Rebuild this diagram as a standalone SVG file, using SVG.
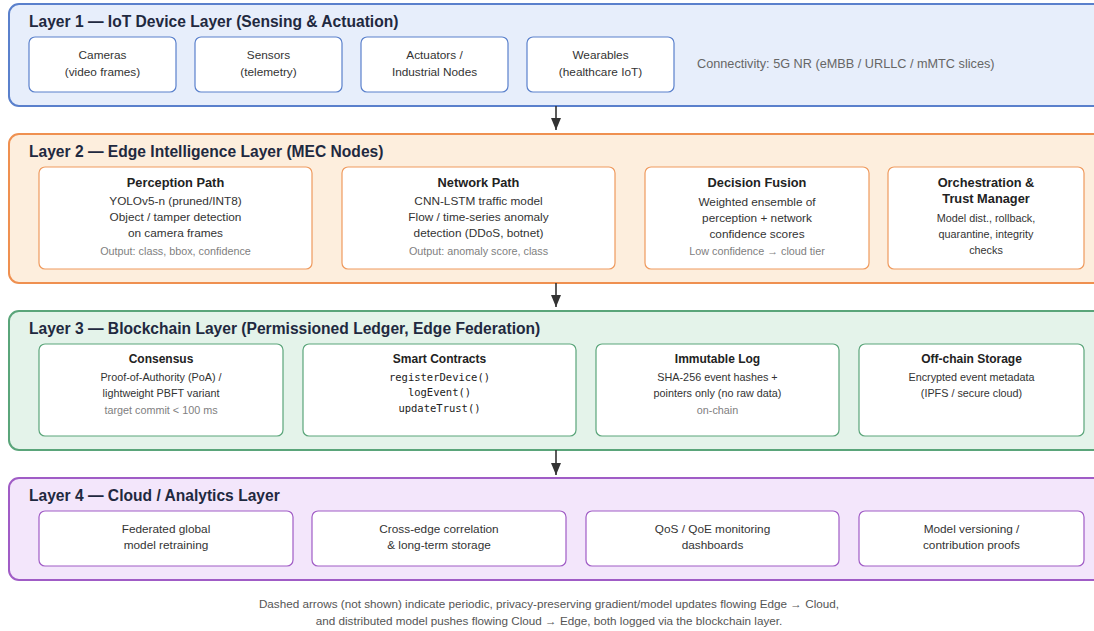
<svg xmlns="http://www.w3.org/2000/svg" width="1094" height="631" viewBox="0 0 1094 631">
<style>
text{font-family:"Liberation Sans",Arial,sans-serif}
.lt{font-size:15.6px;font-weight:bold;fill:#1f2940}
.h{font-size:12.8px;font-weight:bold;fill:#222;text-anchor:middle}
.h3{font-size:12px;font-weight:bold;fill:#222;text-anchor:middle}
.b{font-size:11.8px;fill:#333;text-anchor:middle}
.s{font-size:10.8px;fill:#333;text-anchor:middle}
.g{font-size:10.8px;fill:#808080;text-anchor:middle}
.m{font-family:"DejaVu Sans Mono","Liberation Mono",monospace;font-size:10.5px;fill:#222;text-anchor:middle}
.box{fill:#fff;stroke-width:1.2}
.l1{fill:#e7eefb;stroke:#5a80cc;stroke-width:2}
.l2{fill:#fdeedd;stroke:#ef9050;stroke-width:2}
.l3{fill:#e4f3ea;stroke:#5aa57a;stroke-width:2}
.l4{fill:#f3e6fb;stroke:#a05cc6;stroke-width:2}
.c1{stroke:#5a80cc}.c2{stroke:#ef9a5e}.c3{stroke:#5aa57a}.c4{stroke:#a05cc6}
.arr{stroke:#333;stroke-width:1.6;fill:none}
</style>
<defs>
<marker id="ah2" viewBox="0 0 12 10" refX="12" refY="5" markerWidth="12" markerHeight="10" markerUnits="userSpaceOnUse" orient="auto">
<path d="M0,0 L12,5 L0,10 z" fill="#333"/>
</marker>
</defs>
<rect width="1094" height="631" fill="#fff"/>

<g id="layer1">
<rect class="l1" x="9" y="4" width="1110" height="102" rx="10"/>
<text class="lt" x="29" y="27">Layer 1 — IoT Device Layer (Sensing &amp; Actuation)</text>
<g id="cameras"><rect class="box c1" x="29" y="37" width="147" height="55" rx="6"/><text class="b" x="102.5" y="59">Cameras</text><text class="b" x="102.5" y="76">(video frames)</text></g>
<g id="sensors"><rect class="box c1" x="195" y="37" width="147" height="55" rx="6"/><text class="b" x="268.5" y="59">Sensors</text><text class="b" x="268.5" y="76">(telemetry)</text></g>
<g id="actuators"><rect class="box c1" x="361" y="37" width="147" height="55" rx="6"/><text class="b" x="434.5" y="59">Actuators /</text><text class="b" x="434.5" y="76">Industrial Nodes</text></g>
<g id="wearables"><rect class="box c1" x="527" y="37" width="147" height="55" rx="6"/><text class="b" x="600.5" y="59">Wearables</text><text class="b" x="600.5" y="76">(healthcare IoT)</text></g>
<text x="697" y="68" font-size="12.7" fill="#666">Connectivity: 5G NR (eMBB / URLLC / mMTC slices)</text>
</g>

<g id="layer2">
<rect class="l2" x="9" y="134" width="1110" height="149" rx="10"/>
<text class="lt" x="29" y="157">Layer 2 — Edge Intelligence Layer (MEC Nodes)</text>
<g id="perception"><rect class="box c2" x="39" y="167" width="273" height="102" rx="6"/>
<text class="h" x="175.5" y="187">Perception Path</text>
<text class="b" x="175.5" y="205">YOLOv5-n (pruned/INT8)</text>
<text class="b" x="175.5" y="221">Object / tamper detection</text>
<text class="b" x="175.5" y="237">on camera frames</text>
<text class="g" x="175.5" y="255">Output: class, bbox, confidence</text></g>
<g id="network"><rect class="box c2" x="342" y="167" width="273" height="102" rx="6"/>
<text class="h" x="478.5" y="187">Network Path</text>
<text class="b" x="478.5" y="205">CNN-LSTM traffic model</text>
<text class="b" x="478.5" y="221">Flow / time-series anomaly</text>
<text class="b" x="478.5" y="237">detection (DDoS, botnet)</text>
<text class="g" x="478.5" y="255">Output: anomaly score, class</text></g>
<g id="fusion"><rect class="box c2" x="645" y="167" width="224" height="102" rx="6"/>
<text class="h" x="757" y="187">Decision Fusion</text>
<text class="b" x="757" y="206">Weighted ensemble of</text>
<text class="b" x="757" y="222">perception + network</text>
<text class="b" x="757" y="238">confidence scores</text>
<text class="g" x="757" y="255">Low confidence → cloud tier</text></g>
<g id="orchestration"><rect class="box c2" x="888" y="167" width="196" height="102" rx="6"/>
<text class="h" x="986" y="187">Orchestration &amp;</text>
<text class="h" x="986" y="203">Trust Manager</text>
<text class="s" x="986" y="222">Model dist., rollback,</text>
<text class="s" x="986" y="238">quarantine, integrity</text>
<text class="s" x="986" y="254">checks</text></g>
</g>

<g id="layer3">
<rect class="l3" x="9" y="311" width="1110" height="139" rx="10"/>
<text class="lt" x="29" y="334">Layer 3 — Blockchain Layer (Permissioned Ledger, Edge Federation)</text>
<g id="consensus"><rect class="box c3" x="39" y="344" width="244" height="92" rx="6"/>
<text class="h3" x="161" y="363">Consensus</text>
<text class="s" x="161" y="381">Proof-of-Authority (PoA) /</text>
<text class="s" x="161" y="397">lightweight PBFT variant</text>
<text class="g" x="161" y="414">target commit &lt; 100 ms</text></g>
<g id="contracts"><rect class="box c3" x="303" y="344" width="273" height="92" rx="6"/>
<text class="h3" x="439.5" y="363">Smart Contracts</text>
<text class="m" x="439.5" y="381">registerDevice()</text>
<text class="m" x="439.5" y="396">logEvent()</text>
<text class="m" x="439.5" y="412">updateTrust()</text></g>
<g id="immutable"><rect class="box c3" x="596" y="344" width="243" height="92" rx="6"/>
<text class="h3" x="717.5" y="363">Immutable Log</text>
<text class="s" x="717.5" y="381">SHA-256 event hashes +</text>
<text class="s" x="717.5" y="397">pointers only (no raw data)</text>
<text class="g" x="717.5" y="414">on-chain</text></g>
<g id="offchain"><rect class="box c3" x="859" y="344" width="225" height="92" rx="6"/>
<text class="h3" x="971.5" y="363">Off-chain Storage</text>
<text class="s" x="971.5" y="381">Encrypted event metadata</text>
<text class="s" x="971.5" y="397">(IPFS / secure cloud)</text></g>
</g>

<g id="layer4">
<rect class="l4" x="9" y="478" width="1110" height="102" rx="10"/>
<text class="lt" x="29" y="501">Layer 4 — Cloud / Analytics Layer</text>
<g id="federated"><rect class="box c4" x="39" y="511" width="254" height="55" rx="6"/><text class="b" x="166" y="533">Federated global</text><text class="b" x="166" y="549">model retraining</text></g>
<g id="crossedge"><rect class="box c4" x="312" y="511" width="254" height="55" rx="6"/><text class="b" x="439" y="533">Cross-edge correlation</text><text class="b" x="439" y="549">&amp; long-term storage</text></g>
<g id="qos"><rect class="box c4" x="586" y="511" width="253" height="55" rx="6"/><text class="b" x="712.5" y="533">QoS / QoE monitoring</text><text class="b" x="712.5" y="549">dashboards</text></g>
<g id="versioning"><rect class="box c4" x="859" y="511" width="225" height="55" rx="6"/><text class="b" x="971.5" y="533">Model versioning /</text><text class="b" x="971.5" y="549">contribution proofs</text></g>
</g>

<g id="connectors">
<line class="arr" x1="556" y1="106" x2="556" y2="130" marker-end="url(#ah2)"/>
<line class="arr" x1="556" y1="283" x2="556" y2="307" marker-end="url(#ah2)"/>
<line class="arr" x1="556" y1="450" x2="556" y2="475" marker-end="url(#ah2)"/>
</g>

<g id="footer">
<text x="549" y="608" font-size="11.7" fill="#555" text-anchor="middle">Dashed arrows (not shown) indicate periodic, privacy-preserving gradient/model updates flowing Edge → Cloud,</text>
<text x="549" y="625" font-size="11.7" fill="#555" text-anchor="middle">and distributed model pushes flowing Cloud → Edge, both logged via the blockchain layer.</text>
</g>
</svg>
